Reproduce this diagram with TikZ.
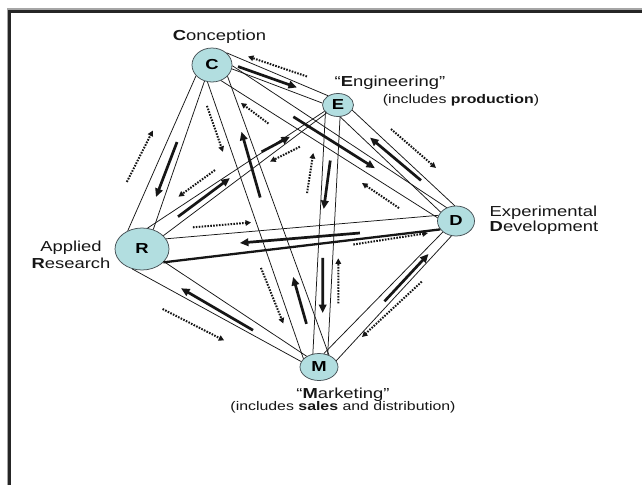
\documentclass[tikz,border=0pt]{standalone}
\usepackage{fontspec}
\setmainfont{Liberation Sans}
\usepackage{graphicx}
\usetikzlibrary{arrows.meta,calc,shapes.geometric}

\definecolor{nodefill}{RGB}{178,222,224}
\definecolor{nodeline}{RGB}{70,80,85}
\definecolor{ink}{RGB}{22,22,22}

% wide sans lettering
\newcommand\wide[1]{\scalebox{1.27}[1]{#1}}
% arrow running beside the link #2--#3: from fraction #4 (side offset #5)
% to fraction #6 (side offset #7); positive offsets lie left of #2->#3
\newcommand\flow[7]{\draw[#1] ($(#2)!#4!(#3)!#5pt!90:(#3)$) -- ($(#2)!#6!(#3)!#7pt!90:(#3)$);}

\tikzset{
  hub/.style={ellipse, draw=nodeline, line width=0.75pt, fill=nodefill, inner sep=0pt,
              font=\fontsize{14.5}{16}\selectfont\bfseries},
  band/.style={draw=ink, line width=0.75pt},
  heavy/.style={draw=ink, line width=2.3pt},
  push/.style={draw=ink, line width=2.7pt, -{Triangle[length=8.5pt,width=7.5pt]}},
  feed/.style={draw=ink, line width=2pt, dash pattern=on 1.6pt off 1.3pt,
               -{Triangle[length=5.5pt,width=5.5pt]}},
  lbl/.style={inner sep=0pt, font=\fontsize{14.5}{16.5}\selectfont, text=ink},
  sub/.style={inner sep=0pt, font=\fontsize{12.5}{14}\selectfont, text=ink},
}

\begin{document}
\begin{tikzpicture}[x=1pt, y=-1pt]
\useasboundingbox (0,0) rectangle (642,485);
\fill[white] (0,0) rectangle (642,485);

% page frame, top and left edges only
\draw[black!35, line width=2pt] (7.6,485) -- (7.6,8.9) -- (642,8.9);
\draw[black!85, line width=2.5pt] (9.7,485) -- (9.7,11.3) -- (642,11.3);

% the five stages
\node[hub, minimum width=40pt, minimum height=34pt] (C) at (212,65)  {\wide{C}};
\node[hub, minimum width=31pt, minimum height=23pt] (E) at (338,105) {\wide{E}};
\node[hub, minimum width=37pt, minimum height=30pt] (D) at (456,221) {\wide{D}};
\node[hub, minimum width=54pt, minimum height=42pt] (R) at (142,249) {\wide{R}};
\node[hub, minimum width=38pt, minimum height=27pt] (M) at (319,367) {\wide{M}};

% captions
\node[lbl, anchor=base] (tC) at (219.5,40) {\wide{\textbf{C}onception}};
\node[lbl, anchor=base] (tE) at (390,86) {\wide{“\textbf{E}ngineering”}};
\node[sub, anchor=base] (tE2) at (461,103.5) {\wide{(includes \textbf{production})}};
\node[lbl, anchor=base west] (tD1) at (489.5,216.7) {\wide{Experimental}};
\node[lbl, anchor=base west] (tD2) at (489.5,231.7) {\wide{\textbf{D}evelopment}};
\node[lbl, anchor=base] (tR1) at (71,251.7) {\wide{Applied}};
\node[lbl, anchor=base] (tR2) at (71,268.3) {\wide{\textbf{R}esearch}};
\node[lbl, anchor=base] (tM) at (343,398.3) {\wide{“\textbf{M}arketing”}};
\node[sub, anchor=base] (tM2) at (343,410.5) {\wide{(includes \textbf{sales} and distribution)}};

% paired lines of every link
\draw[band] (C.40) -- (E.137);   \draw[band] (C.-11) -- (E.173);
\draw[band] (C.-2) -- (D.125);   \draw[band] (C.-60) -- (D.170);
\draw[band] (E.-20) -- (D.95);   \draw[band] (E.-80) -- (D.150);
\draw[band] (C.-146) -- (R.128); \draw[band] (C.-115) -- (R.60);
\draw[band] (C.-105) -- (M.152); \draw[band] (C.-36) -- (M.50);
\draw[band] (E.-150) -- (M.115); \draw[band] (E.-80) -- (M.55);
\draw[band] (E.-155) -- (R.75);  \draw[band] (E.-145) -- (R.32);
\draw[band] (D.162) -- (R.23);   \draw[heavy] (D.-152) -- (R.-32);
\draw[band] (D.-140) -- (M.70);  \draw[band] (D.-107) -- (M.20);
\draw[band] (R.-30) -- (M.139);  \draw[band] (R.-116) -- (M.163);

% solid arrows inside the links
\flow{push}{C}{E}{0.191}{6.4}{0.664}{4.3}
\flow{push}{C}{D}{0.333}{0.2}{0.666}{0.8}
\flow{push}{E}{D}{0.677}{4.4}{0.276}{-0.8}
\flow{push}{C}{R}{0.429}{-5.3}{0.728}{-5.4}
\flow{push}{C}{M}{0.44}{1.2}{0.227}{5.5}
\flow{push}{C}{M}{0.86}{2.6}{0.708}{5.7}
\flow{push}{E}{M}{0.213}{-3.7}{0.399}{-6.7}
\flow{push}{E}{M}{0.585}{-4.2}{0.794}{-0.2}
\flow{push}{E}{R}{0.367}{-7.5}{0.236}{-2.9}
\flow{push}{E}{R}{0.802}{-4.7}{0.536}{-5.1}
\flow{push}{D}{R}{0.307}{3.4}{0.689}{2.7}
\flow{push}{D}{M}{0.537}{2.8}{0.214}{2.5}
\flow{push}{R}{M}{0.646}{-6}{0.255}{-11}

% dotted return arrows beside the links
\flow{feed}{C}{E}{0.711}{17.8}{0.24}{19.0}
\flow{feed}{C}{D}{0.273}{-18.9}{0.155}{-16.4}
\flow{feed}{C}{D}{0.81}{-19.8}{0.656}{-18.6}
\flow{feed}{E}{D}{0.33}{20}{0.689}{23.8}
\flow{feed}{C}{R}{0.709}{-38}{0.418}{-32}
\flow{feed}{C}{M}{0.115}{-18.4}{0.267}{-18.7}
\flow{feed}{C}{M}{0.648}{-21.6}{0.835}{-19.1}
\flow{feed}{E}{M}{0.343}{-24.5}{0.189}{-21.2}
\flow{feed}{E}{M}{0.753}{14.6}{0.582}{11.4}
\flow{feed}{E}{R}{0.228}{11.1}{0.363}{5.4}
\flow{feed}{E}{R}{0.566}{-20.4}{0.752}{-20.6}
\flow{feed}{D}{R}{0.833}{-17.1}{0.648}{-16.7}
\flow{feed}{D}{R}{0.331}{14.3}{0.092}{9.5}
\flow{feed}{D}{M}{0.338}{16.5}{0.744}{10.8}
\flow{feed}{R}{M}{0.237}{-38.5}{0.56}{-30.5}
\end{tikzpicture}
\end{document}
